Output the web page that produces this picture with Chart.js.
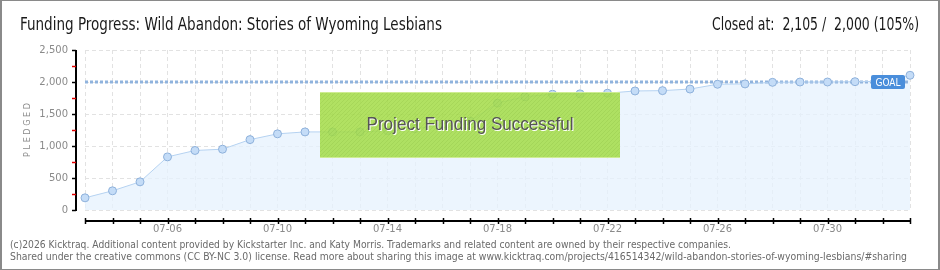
<!DOCTYPE html>
<html>
<head>
<meta charset="utf-8">
<script src="https://cdn.jsdelivr.net/npm/chart.js@4/dist/chart.umd.min.js"></script>
<style>
  body { margin: 0; background: #fff; }
  #wrap { position: relative; width: 940px; height: 270px; overflow: hidden; }
  #myChart { position: absolute; left: 0; top: 0; }
  #frame { position: absolute; left: 0; top: 0; width: 940px; height: 270px; box-sizing: border-box;
           border: 1px solid #8a8a8a; border-left-width: 2px; border-right-width: 2px; pointer-events: none; }
  .txt { position: absolute; white-space: nowrap; transform-origin: left top; line-height: normal; }
  .title { font-family: "Liberation Sans Narrow", "DejaVu Sans Condensed", sans-serif; font-size: 17px; color: #1a1a1a; }
  .foot { font-family: "DejaVu Sans", sans-serif; font-size: 10px; color: #6a6a6a; }
</style>
</head>
<body>
<div id="wrap">
  <canvas id="myChart" width="940" height="270"></canvas>
  <div class="txt title" id="t1" data-x="20" data-w="422" style="top:14px">Funding Progress: Wild Abandon: Stories of Wyoming Lesbians</div>
  <div class="txt title" id="t2" data-x="712" data-w="207" style="top:14px">Closed at:&nbsp; 2,105 /&nbsp; 2,000 (105%)</div>
  <div class="txt foot" id="f1" data-x="10" data-w="721" style="top:239px">(c)2026 Kicktraq. Additional content provided by Kickstarter Inc. and Katy Morris. Trademarks and related content are owned by their respective companies.</div>
  <div class="txt foot" id="f2" data-x="10" data-w="897" style="top:251px">Shared under the creative commons (CC BY-NC 3.0) license. Read more about sharing this image at www.kicktraq.com/projects/416514342/wild-abandon-stories-of-wyoming-lesbians/#sharing</div>
  <div id="frame"></div>
</div>
<script>
let dates = ["07-03", "07-04", "07-05", "07-06", "07-07", "07-08", "07-09", "07-10",
  "07-11", "07-12", "07-13", "07-14", "07-15", "07-16", "07-17", "07-18", "07-19",
  "07-20", "07-21", "07-22", "07-23", "07-24", "07-25", "07-26", "07-27", "07-28",
  "07-29", "07-30", "07-31", "08-01", "08-02"];
let pledged = [190, 300, 440, 830, 930, 950, 1100, 1190,
  1220, 1220, 1220, 1240, 1270, 1330, 1390, 1670, 1770,
  1810, 1815, 1825, 1860, 1865, 1890, 1965, 1970, 1995,
  2000, 2000, 2005, 2010, 2105];
let goalAmount = 2000;
let goalLine = dates.map(() => goalAmount);
let yMax = 2500;
let yStep = 500;

// squeeze the html texts to the widths of the original
document.querySelectorAll(".txt").forEach((el) => {
  let w = el.getBoundingClientRect().width;
  let target = parseFloat(el.dataset.w);
  el.style.left = el.dataset.x + "px";
  el.style.transform = "scaleX(" + target / w + ")";
});

// green hatch for the success box
let pat = document.createElement("canvas");
pat.width = 4;
pat.height = 4;
let pc = pat.getContext("2d");
pc.fillStyle = "rgba(164,220,72,0.86)";
pc.fillRect(0, 0, 4, 4);
pc.clearRect(3, 0, 1, 1);
pc.clearRect(2, 1, 1, 1);
pc.clearRect(1, 2, 1, 1);
pc.clearRect(0, 3, 1, 1);
pc.fillStyle = "rgba(152,208,62,0.86)";
pc.fillRect(3, 0, 1, 1);
pc.fillRect(2, 1, 1, 1);
pc.fillRect(1, 2, 1, 1);
pc.fillRect(0, 3, 1, 1);

const extras = {
  id: "extras",
  afterDraw(chart) {
    const c = chart.ctx;
    const a = chart.chartArea;
    const xs = chart.scales.x;
    const ys = chart.scales.y;
    c.save();

    // y axis line with ticks
    let ax = a.left - 9;
    c.strokeStyle = "#000";
    c.lineWidth = 2;
    c.beginPath();
    c.moveTo(ax, a.top);
    c.lineTo(ax, a.bottom + 1);
    c.stroke();
    for (let v = 0; v <= yMax; v += yStep / 2) {
      let py = Math.round(ys.getPixelForValue(v)) + 0.5;
      c.lineWidth = 1.5;
      c.strokeStyle = v % yStep === 0 ? "#000" : "#e00000";
      c.beginPath();
      c.moveTo(ax - 4, py);
      c.lineTo(ax, py);
      c.stroke();
    }

    // x axis line, set below the plot
    let ay = a.bottom + 11;
    c.strokeStyle = "#000";
    c.lineWidth = 2;
    c.beginPath();
    c.moveTo(a.left, ay);
    c.lineTo(a.right, ay);
    c.stroke();
    c.lineWidth = 1.5;
    for (let i = 0; i < dates.length; i++) {
      let px = Math.round(xs.getPixelForValue(i)) + 0.5;
      c.beginPath();
      c.moveTo(px, ay - 3);
      c.lineTo(px, ay + 3);
      c.stroke();
    }

    // GOAL tag
    let gy = ys.getPixelForValue(goalAmount);
    let gw = 34, gh = 14;
    let gx = a.right - 5 - gw;
    c.fillStyle = "#4a8edb";
    c.beginPath();
    c.roundRect(gx, gy - gh / 2, gw, gh, 2);
    c.fill();
    c.fillStyle = "#fff";
    c.font = "10px 'DejaVu Sans Condensed', sans-serif";
    c.textAlign = "center";
    c.textBaseline = "middle";
    c.fillText("GOAL", gx + gw / 2, gy + 1);

    // success box
    let bw = 300, bh = 66;
    let bx = chart.width / 2 - bw / 2;
    let by = a.top + 42;
    c.fillStyle = c.createPattern(pat, "repeat");
    c.fillRect(bx, by, bw, bh);
    c.fillStyle = "rgba(215,240,160,0.8)";
    c.fillRect(bx, by, bw, 1);
    c.fillRect(bx, by + bh - 1, bw, 1);
    c.font = "19px 'Liberation Sans Narrow', sans-serif";
    c.textBaseline = "middle";
    c.fillStyle = "#fff";
    c.fillText("Project Funding Successful", bx + bw / 2 + 1, by + bh / 2 + 1, 207);
    c.fillStyle = "#555";
    c.fillText("Project Funding Successful", bx + bw / 2, by + bh / 2, 207);
    c.restore();
  },
};

var ctx = document.getElementById("myChart");
var lineChart = new Chart(ctx, {
  type: "line",
  data: {
    labels: dates,
    datasets: [
      {
        label: "Pledged",
        data: pledged,
        borderColor: "#b5d2f1",
        borderWidth: 1,
        backgroundColor: "rgba(230,241,253,0.75)",
        fill: "origin",
        tension: 0,
        pointRadius: 4,
        pointBackgroundColor: "#c4dcf7",
        pointBorderColor: "#8eb1db",
        pointBorderWidth: 1,
      },
      {
        label: "Goal",
        data: goalLine,
        borderColor: "#90b3dd",
        borderWidth: 3,
        borderDash: [3, 2],
        pointRadius: 0,
        fill: false,
      },
    ],
  },
  options: {
    responsive: false,
    animation: false,
    events: [],
    layout: {
      padding: { left: 22, right: 30, top: 50, bottom: 0 },
    },
    plugins: {
      legend: { display: false },
      tooltip: { enabled: false },
      filler: { drawTime: "beforeDatasetsDraw" },
    },
    scales: {
      x: {
        offset: false,
        afterFit: (scale) => { scale.height = 60; },
        grid: { color: "#e2e2e2", drawTicks: false },
        border: { display: false, dash: [4, 3] },
        ticks: {
          autoSkip: false,
          maxRotation: 0,
          padding: 13,
          color: "#8a8a8a",
          font: { family: "DejaVu Sans", size: 10 },
          callback: function (v, i) {
            return (i - 3) % 4 === 0 ? dates[i] : "";
          },
        },
      },
      y: {
        min: 0,
        max: yMax,
        afterFit: (scale) => { scale.width = 63; },
        grid: { color: "#e2e2e2", drawTicks: false },
        border: { display: false, dash: [4, 3] },
        title: {
          display: true,
          text: "P L E D G E D",
          color: "#8a8a8a",
          padding: 0,
          font: { family: "DejaVu Sans Condensed", size: 9 },
        },
        ticks: {
          stepSize: yStep,
          padding: 17,
          color: "#8a8a8a",
          font: { family: "DejaVu Sans", size: 10 },
          callback: (v) => v.toLocaleString("en-US"),
        },
      },
    },
  },
  plugins: [extras],
});
</script>
</body>
</html>
